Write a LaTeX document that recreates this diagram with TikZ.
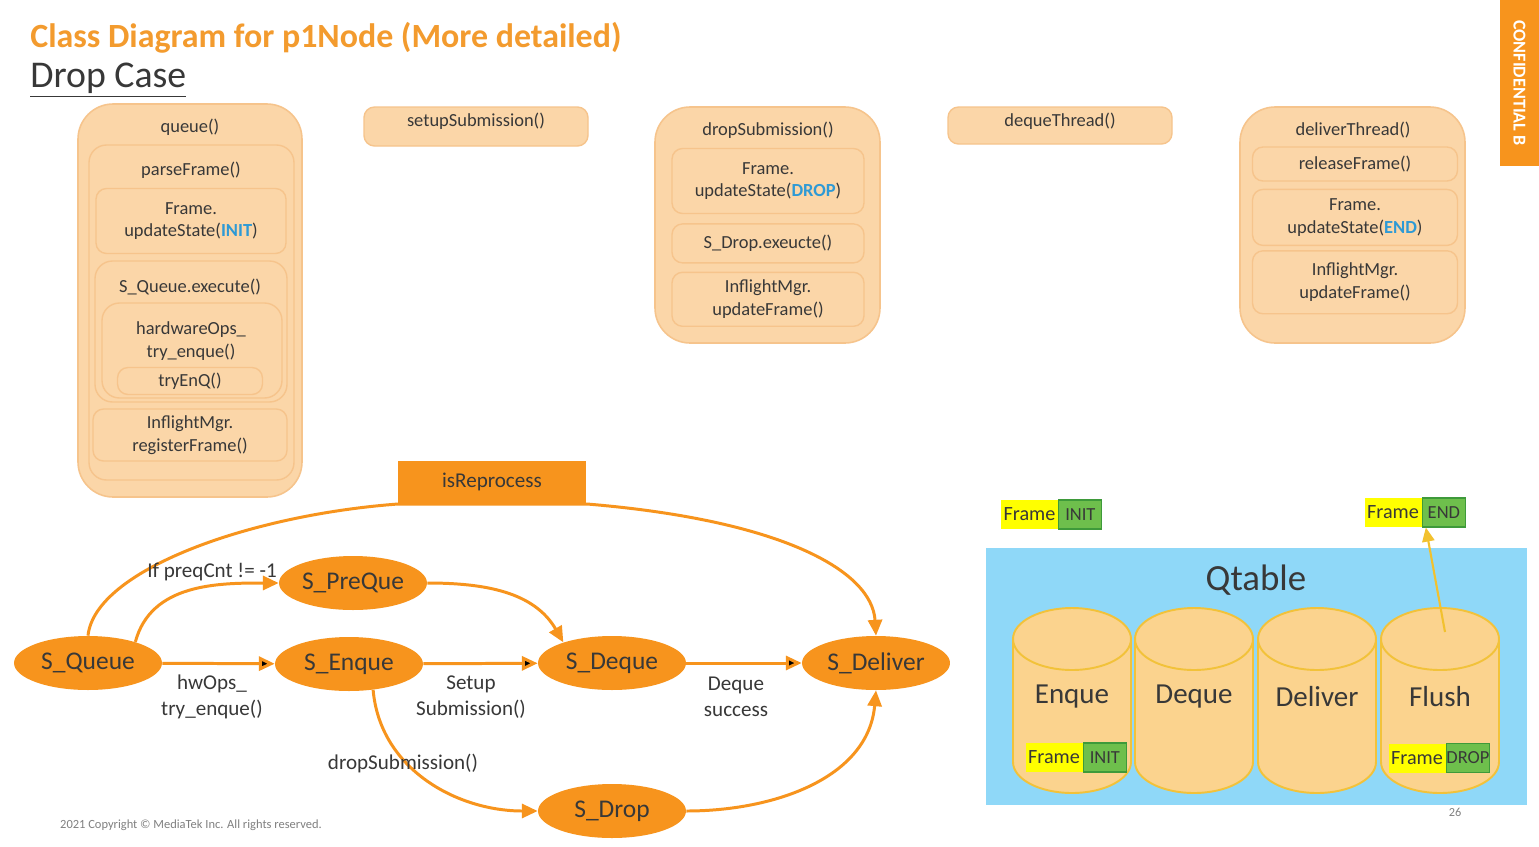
\documentclass[tikz,border=0pt]{standalone}
\usepackage{fontspec}
\setmainfont{Carlito}
\usetikzlibrary{positioning,arrows.meta,calc,shapes.geometric}

\definecolor{boxfill}{HTML}{FBD6A8}
\definecolor{boxline}{HTML}{F6C48C}
\definecolor{stateor}{HTML}{F7941D}
\definecolor{titleor}{HTML}{F39B2E}
\definecolor{hlblue}{HTML}{2E9AD5}
\definecolor{txt}{HTML}{383838}
\definecolor{qblue}{HTML}{8FD8F8}
\definecolor{cylfill}{HTML}{FBD38E}
\definecolor{cylline}{HTML}{F2C23A}
\definecolor{tagyel}{HTML}{FFFF00}
\definecolor{taggrn}{HTML}{6EBF4C}
\definecolor{taggrnl}{HTML}{3E9A3A}
\definecolor{ylwline}{HTML}{F2C12E}

\tikzset{
  outbox/.style={draw=boxline,fill=boxfill,line width=0.9pt,rounded corners=20pt},
  midbox/.style={draw=boxline,fill=boxfill,line width=0.8pt,rounded corners=10pt},
  leaf/.style={draw=boxline,fill=boxfill,line width=0.8pt,rounded corners=6pt,align=center,text=txt,inner sep=0pt,font=\fontsize{10.5}{13}\selectfont},
  head/.style={text=txt,align=center,inner sep=0pt,font=\fontsize{10.5}{13}\selectfont},
  stnode/.style={ellipse,fill=stateor,minimum width=2.96cm,minimum height=1.08cm,inner sep=0pt,text=txt,font=\fontsize{14.5}{17}\selectfont},
  flow/.style={draw=stateor,line width=1.7pt,-{Triangle[length=9pt,width=8pt]}},
  elbl/.style={text=txt,align=center,inner sep=0pt,font=\fontsize{12}{14.6}\selectfont},
  cyl/.style={draw=cylline,fill=cylfill,line width=1.1pt},
  cyllbl/.style={text=txt,inner sep=0pt,font=\fontsize{16.5}{19}\selectfont},
  frm/.style={fill=tagyel,text=txt,minimum width=1.14cm,minimum height=0.58cm,inner sep=0pt,font=\fontsize{11.5}{13}\selectfont},
  stt/.style={fill=taggrn,draw=taggrnl,line width=0.6pt,text=txt,minimum width=0.86cm,minimum height=0.58cm,inner sep=0pt,font=\fontsize{10.5}{13}\selectfont},
}
\newcommand{\hlb}[1]{\textcolor{hlblue}{\textbf{#1}}}

\begin{document}
\begin{tikzpicture}[x=0.02cm,y=-0.02cm]

  \fill[white] (0,0) rectangle (1539,846);
  \useasboundingbox (0,0) rectangle (1539,846);

  \node[anchor=west,inner sep=0pt,text=titleor,font=\fontsize{19.3}{22}\selectfont\bfseries] (t1) at (30,38) {Class Diagram for p1Node (More detailed)};
  \node[anchor=west,inner sep=0pt,text=txt,font=\fontsize{21.5}{25}\selectfont] (t2) at (30,80) {\underline{Drop Case}};

  % queue()
  \draw[outbox] (78,104) rectangle (302,497);
  \draw[midbox] (89,145) rectangle (294,480);
  \draw[midbox] (95,261) rectangle (287,402);
  \draw[midbox] (102,303) rectangle (282,398);
  \node[head] (q0) at (190,127) {queue()};
  \node[head] (q1) at (191,170) {parseFrame()};
  \node[leaf,minimum width=3.8cm,minimum height=1.3cm] (q2) at (191,221) {Frame.\\updateState(\hlb{INIT})};
  \node[head] (q3) at (190,287) {S\_Queue.execute()};
  \node[head] (q4) at (191,341) {hardwareOps\_\\try\_enque()};
  \node[leaf,minimum width=2.9cm,minimum height=0.54cm] (q5) at (190,381) {tryEnQ()};
  \node[leaf,minimum width=3.88cm,minimum height=1.04cm] (q6) at (190,435) {InflightMgr.\\registerFrame()};

  % setupSubmission()
  \draw[midbox,rounded corners=6pt] (364,107) rectangle (588,146);
  \node[head] (s0) at (476,121) {setupSubmission()};

  % dropSubmission()
  \draw[outbox] (655,107) rectangle (880,343);
  \node[head] (d0) at (768,130) {dropSubmission()};
  \node[leaf,minimum width=3.84cm,minimum height=1.3cm] (d1) at (768,181) {Frame.\\updateState(\hlb{DROP})};
  \node[leaf,minimum width=3.84cm,minimum height=0.78cm] (d2) [below=0.18cm of d1] {S\_Drop.exeucte()};
  \node[leaf,minimum width=3.84cm,minimum height=1.08cm] (d3) [below=0.16cm of d2] {InflightMgr.\\updateFrame()};

  % dequeThread()
  \draw[midbox,rounded corners=6pt] (948,107) rectangle (1172,144);
  \node[head] (h0) at (1060,121) {dequeThread()};

  % deliverThread()
  \draw[outbox] (1240,107) rectangle (1465,343);
  \node[head] (v0) at (1353,130) {deliverThread()};
  \node[leaf,minimum width=4.1cm,minimum height=0.68cm] (v1) at (1355,164) {releaseFrame()};
  \node[leaf,minimum width=4.1cm,minimum height=1.12cm] (v2) [below=0.14cm of v1] {Frame.\\updateState(\hlb{END})};
  \node[leaf,minimum width=4.1cm,minimum height=1.26cm] (v3) [below=0.08cm of v2] {InflightMgr.\\updateFrame()};

  \node[fill=stateor,text=white,rotate=-90,minimum width=3.32cm,minimum height=0.78cm,inner sep=0pt,font=\fontsize{10.3}{12}\selectfont\bfseries] (cf) at (1519.5,83) {CONFIDENTIAL B};

  % states
  \node[stnode] (sq) at (88,663) {S\_Queue};
  \node[stnode] (sp) at (353,583) {S\_PreQue};
  \node[stnode] (se) at (349,664) {S\_Enque};
  \node[stnode] (sd) at (612,663) {S\_Deque};
  \node[stnode] (sl) at (876,663) {S\_Deliver};
  \node[stnode] (sx) at (612,811) {S\_Drop};

  \coordinate (r1) at (398,504);
  \coordinate (r2) at (587,504);
  \draw[flow] (sq.north) .. controls (95,570) and (250,515) .. (r1) -- (r2) .. controls (780,520) and (872,570) .. (sl.north);
  \node[fill=stateor,text=txt,minimum width=3.78cm,minimum height=0.84cm,inner sep=0pt,font=\fontsize{12}{14}\selectfont] (rep) at (492,482) {isReprocess};

  \draw[flow] (sq.24) to[out=75,in=180] (sp.west);
  \draw[flow] (sp.east) to[out=0,in=120] (sd.157);
  \path[flow] (sq) edge (se);
  \path[flow] (se) edge (sd);
  \path[flow] (sd) edge (sl);
  \draw[flow] (se.313) to[out=-85,in=180] (sx.west);
  \draw[flow] (sx.east) to[out=0,in=-95] (sl.south);

  \node[elbl] (l1) at (212,572) {If preqCnt != -1};
  \node[elbl] (l2) at (212,697) {hwOps\_\\try\_enque()};
  \node[elbl] (l3) at (471,697) {Setup\\Submission()};
  \node[elbl] (l4) at (736,697) {Deque\\success};
  \node[elbl] (l5) at (403,763) {dropSubmission()};

  % Qtable
  \fill[qblue] (986,548) rectangle (1527,805);
  \node[text=txt,font=\fontsize{21}{24}\selectfont] (qt) at (1256,580) {Qtable};

  \draw[cyl] (1013,639) -- (1013,762) arc[start angle=180,end angle=360,x radius=1.18cm,y radius=0.62cm] -- (1131,639) -- cycle;
  \draw[cyl] (1072,639) ellipse[x radius=1.18cm,y radius=0.62cm];
  \draw[cyl] (1135,639) -- (1135,762) arc[start angle=180,end angle=360,x radius=1.18cm,y radius=0.62cm] -- (1253,639) -- cycle;
  \draw[cyl] (1194,639) ellipse[x radius=1.18cm,y radius=0.62cm];
  \draw[cyl] (1258,639) -- (1258,762) arc[start angle=180,end angle=360,x radius=1.18cm,y radius=0.62cm] -- (1376,639) -- cycle;
  \draw[cyl] (1317,639) ellipse[x radius=1.18cm,y radius=0.62cm];
  \draw[cyl] (1381,639) -- (1381,762) arc[start angle=180,end angle=360,x radius=1.18cm,y radius=0.62cm] -- (1499,639) -- cycle;
  \draw[cyl] (1440,639) ellipse[x radius=1.18cm,y radius=0.62cm];

  \node[cyllbl] (c1) at (1072,697) {Enque};
  \node[cyllbl] (c2) at (1194,697) {Deque};
  \node[cyllbl] (c3) at (1317,697) {Deliver};
  \node[cyllbl] (c4) at (1440,697) {Flush};

  % frame tags
  \node[frm] (f1) at (1029.5,514.5) {Frame};
  \node[stt] (e1) [right=0pt of f1] {INIT};
  \node[frm] (f2) at (1054,757.5) {Frame};
  \node[stt] (e2) [right=0pt of f2] {INIT};
  \node[frm] (f3) at (1417,758) {Frame};
  \node[stt] (e3) [right=0pt of f3] {DROP};
  \node[frm] (f4) at (1393,512.5) {Frame};
  \node[stt] (e4) [right=0pt of f4] {END};

  \coordinate (c4t) at (1445,632);
  \draw[draw=ylwline,line width=1.2pt,-{Triangle[length=8pt,width=7pt]}] (c4t) -- ($(e4.south west)+(4,0)$);

  \node[anchor=west,text=gray,font=\fontsize{7.1}{8}\selectfont] (cp) at (54,825) {2021 Copyright \textcopyright{} MediaTek Inc. All rights reserved.};
  \node[text=gray,font=\fontsize{7}{8}\selectfont] (pg) at (1455,812) {26};

\end{tikzpicture}
\end{document}
